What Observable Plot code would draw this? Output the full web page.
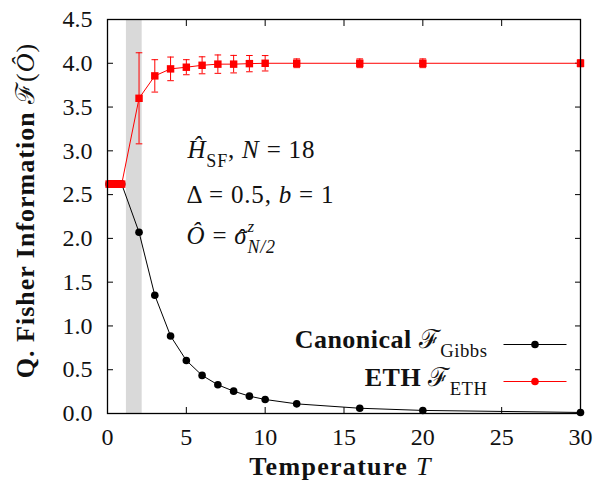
<!DOCTYPE html>
<html><head><meta charset="utf-8">
<script src="https://cdn.jsdelivr.net/npm/d3@7"></script>
<script src="https://cdn.jsdelivr.net/npm/@observablehq/plot@0.6"></script>
<style>body{margin:0;background:#fff} svg{display:block}</style>
</head><body>
<script>
// ---- data ----
const temperatures = [0.1,0.2,0.3,0.4,0.5,0.6,0.7,0.8,0.9,2,3,4,5,6,7,8,9,10,12,16,20,30];
const gibbsFI = [2.62,2.62,2.62,2.62,2.62,2.62,2.62,2.62,2.62,2.07,1.35,0.885,0.606,0.435,0.328,0.255,0.198,0.16,0.11,0.06,0.035,0.012];
const ethFI   = [2.62,2.62,2.62,2.62,2.62,2.62,2.62,2.62,2.62,3.60,3.856,3.936,3.955,3.977,3.99,3.99,3.996,4.0,4.0,4.0,4.0,4.0];
const ethErr  = [0,0,0,0,0,0,0,0,0,0.52,0.185,0.135,0.086,0.097,0.105,0.10,0.093,0.088,0.05,0.05,0.05,0.04];
const bandT = [1.2, 2.2];
const xTicks = [0,5,10,15,20,25,30];
const yTicks = [0,0.5,1,1.5,2,2.5,3,3.5,4,4.5];
const xDomain = [0,30];
const yDomain = [0,4.5];
const xLabel = [{t:"Temperature ",bf:1},{t:"T",it:1}];
const yLabel = [{t:"Q. Fisher Information ",bf:1},{t:"\u2131",script:1},{t:"("},{t:"\u00D4",it:1},{t:")"}];
const annot1 = [{t:"\u0124",it:1},{t:"SF",sub:1},{t:", "},{t:"N",it:1},{t:" = 18"}];
const annot2 = [{t:"\u0394 = 0.5, "},{t:"b",it:1},{t:" = 1"}];
const annot3 = [{t:"\u00D4",it:1},{t:" = "},{t:"\u03C3",it:1},{t:"\u02C6",accent:1},{t:"z",it:1,sup:1},{t:"N/2",it:1,sub:1,under:1}];
const legendGibbs = [{t:"Canonical ",bf:1},{t:"\u2131",script:1},{t:"Gibbs",sub:1}];
const legendEth = [{t:"ETH ",bf:1},{t:"\u2131",script:1},{t:"ETH",sub:1}];

const rows = temperatures.map((t,i)=>({T:t, gibbs:gibbsFI[i], eth:ethFI[i], err:ethErr[i]}));
const errRows = rows.filter(d=>d.err>0);

const FONT = "Liberation Serif";
const FS = 24;
const hline = {draw(ctx,size){const w=Math.sqrt(size/Math.PI); ctx.moveTo(-w,0); ctx.lineTo(w,0);}};

const rich = [];
function richText(spec, size, spacing, opts){
  const key = "\u00A7" + rich.length;
  rich.push({spec, size, spacing});
  return Plot.text([0], {text: ()=>key, lineAnchor:"middle", fill:"#111", ...opts});
}

const chart = Plot.plot({
  width:601, height:483, marginLeft:107, marginRight:21, marginTop:19, marginBottom:70,
  style:{fontFamily:FONT, fontSize:FS+"px", color:"#000", background:"#fff"},
  x:{domain:xDomain}, y:{domain:yDomain},
  marks:[
    Plot.rect([bandT], {x1:d=>d[0], x2:d=>d[1], y1:yDomain[0], y2:yDomain[1], fill:"#d9d9d9"}),
    Plot.axisX({ticks:xTicks, tickSize:-6, tickPadding:20, tickFormat:d=>String(d), label:null, fill:"#111"}),
    Plot.axisX({anchor:"top", ticks:xTicks, tickSize:-6, tickFormat:()=>"", label:null}),
    Plot.axisY({ticks:yTicks, tickSize:-6, tickPadding:21, tickFormat:d=>d.toFixed(1), label:null, fill:"#111"}),
    Plot.axisY({anchor:"right", ticks:yTicks, tickSize:-6, tickFormat:()=>"", label:null}),
    Plot.line(rows, {x:"T", y:"gibbs", stroke:"#000", strokeWidth:1}),
    Plot.line(rows, {x:"T", y:"eth", stroke:"#f00", strokeWidth:1}),
    Plot.ruleX(errRows, {x:"T", y1:d=>d.eth-d.err, y2:d=>d.eth+d.err, stroke:"#f00", strokeWidth:1}),
    Plot.dot(errRows, {x:"T", y:d=>d.eth-d.err, symbol:hline, r:3.3, stroke:"#f00", fill:"none", strokeWidth:1}),
    Plot.dot(errRows, {x:"T", y:d=>d.eth+d.err, symbol:hline, r:3.3, stroke:"#f00", fill:"none", strokeWidth:1}),
    Plot.dot(rows, {x:"T", y:"gibbs", r:3.8, fill:"#000"}),
    Plot.dot(rows, {x:"T", y:"eth", symbol:"square", r:4.2, fill:"#f00"}),
    Plot.frame({stroke:"#000", strokeWidth:1.3}),
    // legend swatches
    Plot.dot([0], {frameAnchor:"bottom-right", dx:-45.5, dy:-69, symbol:hline, r:31.5, stroke:"#000", fill:"none", strokeWidth:1}),
    Plot.dot([0], {frameAnchor:"bottom-right", dx:-45.5, dy:-69, r:3.8, fill:"#000"}),
    Plot.dot([0], {frameAnchor:"bottom-right", dx:-45.5, dy:-32, symbol:hline, r:31.5, stroke:"#f00", fill:"none", strokeWidth:1}),
    Plot.dot([0], {frameAnchor:"bottom-right", dx:-45.5, dy:-32, r:3.8, fill:"#f00"}),
    // texts
    richText(legendGibbs, 26, 0.5, {frameAnchor:"bottom-right", textAnchor:"end", dx:-93, dy:-74}),
    richText(legendEth, 26, 0.5, {frameAnchor:"bottom-right", textAnchor:"end", dx:-93, dy:-36}),
    richText(annot1, 25, 0.8, {frameAnchor:"top-left", textAnchor:"start", dx:80, dy:130}),
    richText(annot2, 25, 0.8, {frameAnchor:"top-left", textAnchor:"start", dx:79, dy:175}),
    richText(annot3, 25, 0.8, {frameAnchor:"top-left", textAnchor:"start", dx:79, dy:216}),
    richText(xLabel, 26, 1.3, {frameAnchor:"bottom", textAnchor:"middle", dx:-3.5, dy:53}),
    richText(yLabel, 26, 1.0, {frameAnchor:"left", textAnchor:"middle", dx:-82, dy:-6, rotate:-90})
  ]
});
document.body.append(chart);

// turn placeholder keys into rich text with tspans
const NS = "http://www.w3.org/2000/svg";
chart.querySelectorAll("text").forEach(el => {
  const s = el.textContent;
  if (!s.startsWith("\u00A7")) return;
  const {spec, size, spacing} = rich[+s.slice(1)];
  el.textContent = "";
  el.removeAttribute("y");
  el.removeAttribute("dy");
  let shift = 0, first = true, prev = null, pendingDx = 0;
  for (const seg of spec) {
    const ts = document.createElementNS(NS, "tspan");
    ts.textContent = seg.t;
    let target = 0, fs = size;
    if (seg.sub) { target = size*0.36; fs = size*0.72; }
    if (seg.sup) { target = -size*0.45; fs = size*0.68; }
    if (seg.accent) { target = size*0.14; }
    const base = first ? size*0.32 : 0;
    ts.setAttribute("dy", (base + target - shift).toFixed(2));
    shift = target; first = false;
    ts.setAttribute("font-size", fs);
    ts.setAttribute("font-weight", seg.bf ? "bold" : "normal");
    ts.setAttribute("letter-spacing", spacing);
    if (seg.it) ts.setAttribute("font-style", "italic");
    if (seg.script) ts.setAttribute("font-family", "DejaVu Serif");
    el.appendChild(ts);
    if (seg.accent && prev) {
      const pw = prev.getComputedTextLength(), w = ts.getComputedTextLength();
      ts.setAttribute("dx", (-(pw + w)/2 + 2).toFixed(2));
      pendingDx = (pw - w)/2 - 2;
    } else if (seg.under && prev) {
      ts.setAttribute("dx", (-prev.getComputedTextLength()).toFixed(2));
    } else if (pendingDx) {
      ts.setAttribute("dx", (pendingDx + 1).toFixed(2));
      pendingDx = 0;
    }
    prev = ts;
  }
});
</script>
</body></html>
